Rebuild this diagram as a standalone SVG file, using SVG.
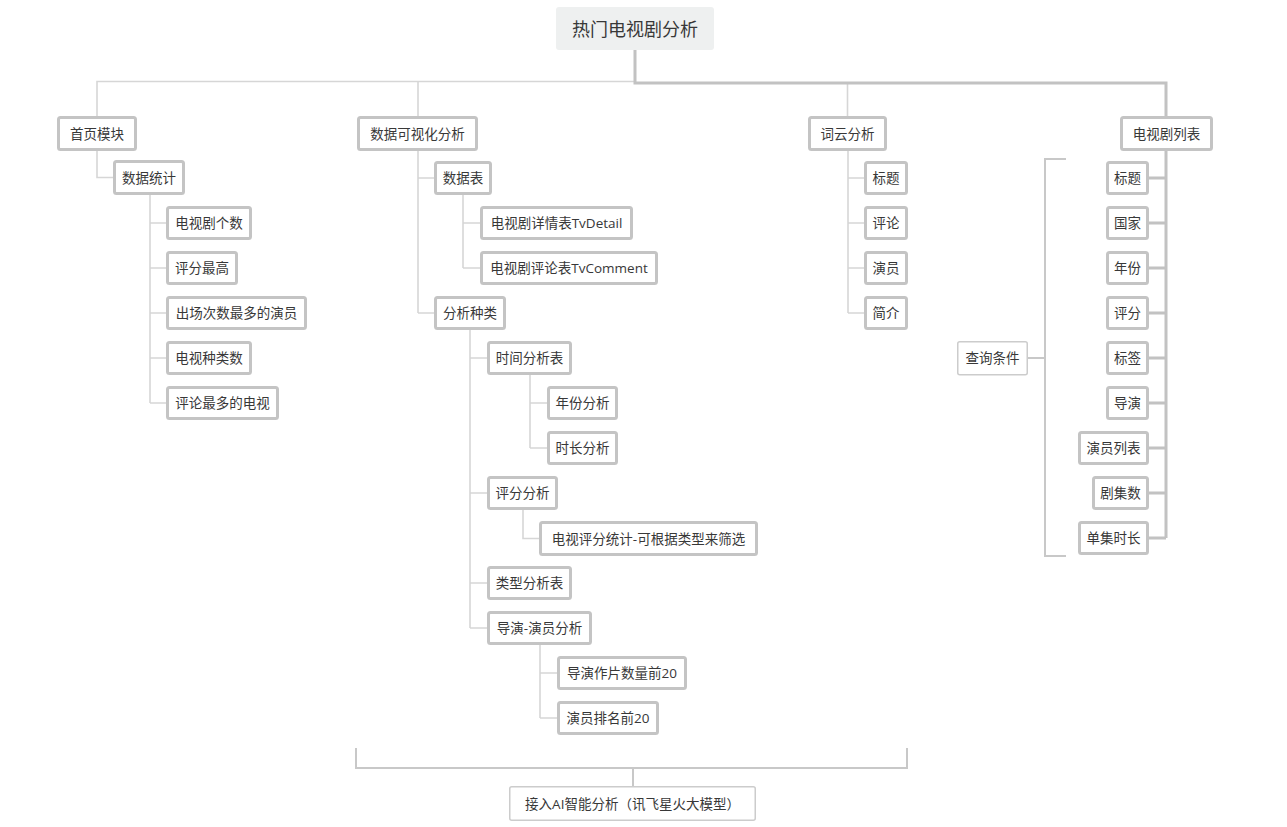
<svg xmlns="http://www.w3.org/2000/svg" width="1287" height="827" viewBox="0 0 1287 827">
<style>
.n rect{fill:#fff;stroke:#c4c4c4;stroke-width:3;}
.t rect{fill:#fff;stroke:#cccccc;stroke-width:1.5;}
text{font-family:"Open Sans","Noto Sans CJK SC",sans-serif;font-size:13.5px;fill:#383838;text-anchor:middle;dominant-baseline:central;}
.thin{fill:none;stroke:#d6d6d6;stroke-width:1.6;}
.thick{fill:none;stroke:#c2c2c2;stroke-width:3;}
.br{fill:none;stroke:#c8c8c8;stroke-width:2;}
</style>
<rect width="1287" height="827" fill="#fff"/>
<g id="connectors">
<path class="thin" d="M97,116V81.5H635M418,116V81.5M847.5,83V116"/>
<path class="thick" d="M635,50V83H1166V116"/>
<path class="thin" d="M97,151V177.5H113"/>
<path class="thin" d="M150,195V403M150,223H166M150,268H166M150,313H166M150,358H166M150,403H166"/>
<path class="thin" d="M418,151V313M418,178H434M418,313H434"/>
<path class="thin" d="M463,195V268M463,223H480M463,268H480"/>
<path class="thin" d="M470,330V628M470,358H487M470,493H487M470,583H487M470,628H487"/>
<path class="thin" d="M530,375V448M530,403H547M530,448H547"/>
<path class="thin" d="M523,510V538.5H539"/>
<path class="thin" d="M540,645V718M540,673H557M540,718H557"/>
<path class="thin" d="M848,151V313M848,178H864M848,223H864M848,268H864M848,313H864"/>
<path class="thick" d="M1166,151V538M1149,178H1166M1149,223H1166M1149,268H1166M1149,313H1166M1149,358H1166M1149,403H1166M1149,448H1166M1149,493H1166M1149,538H1166"/>
<path class="br" d="M1028,358H1045M1066,159H1045V556H1066"/>
<path class="br" d="M356,748V768H907V748M633,768V786"/>
</g>
<g id="root"><rect x="556" y="7" width="158" height="43" rx="3" fill="#eef0f0"/><text x="635" y="28.5" style="font-size:18px">热门电视剧分析</text></g>
<g id="n1" class="n"><rect x="58.5" y="117.5" width="77" height="32" rx="2"/><text x="97" y="133.5">首页模块</text></g>
<g id="n2" class="n"><rect x="358.5" y="117.5" width="118" height="32" rx="2"/><text x="417.5" y="133.5">数据可视化分析</text></g>
<g id="n3" class="n"><rect x="809.5" y="117.5" width="76" height="32" rx="2"/><text x="847.5" y="133.5">词云分析</text></g>
<g id="n4" class="n"><rect x="1121.5" y="117.5" width="90" height="32" rx="2"/><text x="1166.5" y="133.5">电视剧列表</text></g>
<g id="n5" class="n"><rect x="114.5" y="161.5" width="69" height="32" rx="2"/><text x="149" y="177.5">数据统计</text></g>
<g id="n6" class="n"><rect x="167.5" y="207.5" width="83" height="31" rx="2"/><text x="209" y="223">电视剧个数</text></g>
<g id="n7" class="n"><rect x="167.5" y="252.5" width="69" height="31" rx="2"/><text x="202" y="268">评分最高</text></g>
<g id="n8" class="n"><rect x="167.5" y="297.5" width="138" height="31" rx="2"/><text x="236.5" y="313">出场次数最多的演员</text></g>
<g id="n9" class="n"><rect x="167.5" y="342.5" width="83" height="31" rx="2"/><text x="209" y="358">电视种类数</text></g>
<g id="n10" class="n"><rect x="167.5" y="387.5" width="110" height="31" rx="2"/><text x="222.5" y="403">评论最多的电视</text></g>
<g id="n11" class="n"><rect x="435.5" y="162.5" width="55" height="31" rx="2"/><text x="463" y="178">数据表</text></g>
<g id="n12" class="n"><rect x="481.5" y="207.5" width="150" height="31" rx="2"/><text x="556.5" y="223">电视剧详情表TvDetail</text></g>
<g id="n13" class="n"><rect x="481.5" y="252.5" width="175" height="31" rx="2"/><text x="569" y="268">电视剧评论表TvComment</text></g>
<g id="n14" class="n"><rect x="435.5" y="297.5" width="69" height="31" rx="2"/><text x="470" y="313">分析种类</text></g>
<g id="n15" class="n"><rect x="488.5" y="342.5" width="82" height="31" rx="2"/><text x="529.5" y="358">时间分析表</text></g>
<g id="n16" class="n"><rect x="548.5" y="387.5" width="68" height="31" rx="2"/><text x="582.5" y="403">年份分析</text></g>
<g id="n17" class="n"><rect x="548.5" y="432.5" width="68" height="31" rx="2"/><text x="582.5" y="448">时长分析</text></g>
<g id="n18" class="n"><rect x="488.5" y="477.5" width="68" height="31" rx="2"/><text x="522.5" y="493">评分分析</text></g>
<g id="n19" class="n"><rect x="540.5" y="522.5" width="216" height="32" rx="2"/><text x="648.5" y="538.5">电视评分统计-可根据类型来筛选</text></g>
<g id="n20" class="n"><rect x="488.5" y="567.5" width="82" height="31" rx="2"/><text x="529.5" y="583">类型分析表</text></g>
<g id="n21" class="n"><rect x="488.5" y="612.5" width="102" height="31" rx="2"/><text x="539.5" y="628">导演-演员分析</text></g>
<g id="n22" class="n"><rect x="558.5" y="657.5" width="127" height="31" rx="2"/><text x="622" y="673">导演作片数量前20</text></g>
<g id="n23" class="n"><rect x="558.5" y="702.5" width="99" height="31" rx="2"/><text x="608" y="718">演员排名前20</text></g>
<g id="n24" class="n"><rect x="865.5" y="162.5" width="41" height="31" rx="2"/><text x="886" y="178">标题</text></g>
<g id="n25" class="n"><rect x="865.5" y="207.5" width="41" height="31" rx="2"/><text x="886" y="223">评论</text></g>
<g id="n26" class="n"><rect x="865.5" y="252.5" width="41" height="31" rx="2"/><text x="886" y="268">演员</text></g>
<g id="n27" class="n"><rect x="865.5" y="297.5" width="41" height="31" rx="2"/><text x="886" y="313">简介</text></g>
<g id="n28" class="n"><rect x="1107.5" y="162.5" width="40" height="31" rx="2"/><text x="1127.5" y="178">标题</text></g>
<g id="n29" class="n"><rect x="1107.5" y="207.5" width="40" height="31" rx="2"/><text x="1127.5" y="223">国家</text></g>
<g id="n30" class="n"><rect x="1107.5" y="252.5" width="40" height="31" rx="2"/><text x="1127.5" y="268">年份</text></g>
<g id="n31" class="n"><rect x="1107.5" y="297.5" width="40" height="31" rx="2"/><text x="1127.5" y="313">评分</text></g>
<g id="n32" class="n"><rect x="1107.5" y="342.5" width="40" height="31" rx="2"/><text x="1127.5" y="358">标签</text></g>
<g id="n33" class="n"><rect x="1107.5" y="387.5" width="40" height="31" rx="2"/><text x="1127.5" y="403">导演</text></g>
<g id="n34" class="n"><rect x="1079.5" y="432.5" width="68" height="31" rx="2"/><text x="1113.5" y="448">演员列表</text></g>
<g id="n35" class="n"><rect x="1093.5" y="477.5" width="54" height="31" rx="2"/><text x="1120.5" y="493">剧集数</text></g>
<g id="n36" class="n"><rect x="1079.5" y="522.5" width="68" height="31" rx="2"/><text x="1113.5" y="538">单集时长</text></g>
<g id="n37" class="t"><rect x="957.75" y="341.75" width="69.5" height="33" rx="2"/><text x="992.5" y="358">查询条件</text></g>
<g id="n38" class="t"><rect x="509.75" y="786.75" width="245.5" height="33.5" rx="2"/><text x="632.5" y="803.5">接入AI智能分析（讯飞星火大模型）</text></g>
</svg>
